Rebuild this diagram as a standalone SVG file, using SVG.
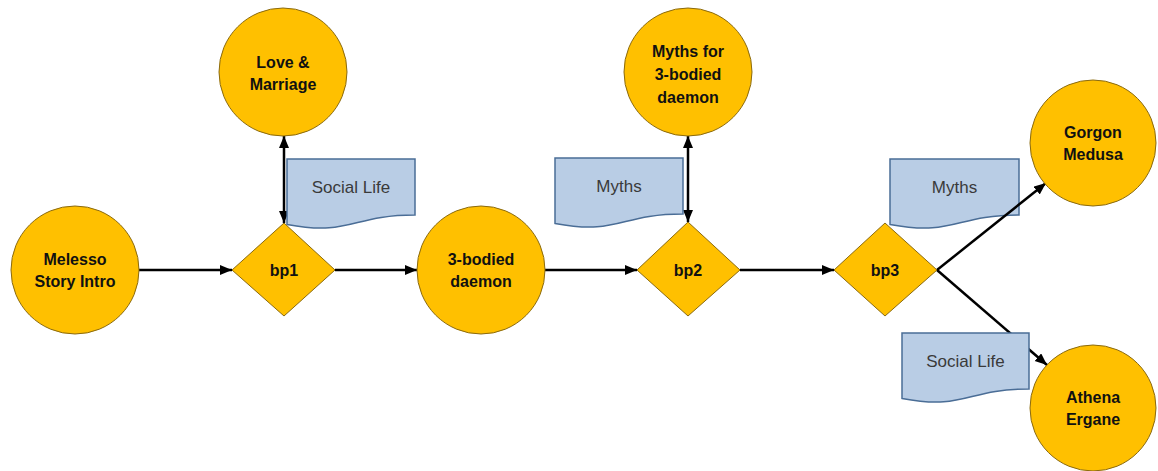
<svg xmlns="http://www.w3.org/2000/svg" width="1158" height="471" viewBox="0 0 1158 471">
  <defs>
    <style>
      .node { fill: #FFC000; stroke: #8a6a10; stroke-width: 1; }
      .doc { fill: #B9CDE5; stroke: #4A6D96; stroke-width: 1.5; }
      .lbl { font-family: "Liberation Sans", Arial, sans-serif; font-weight: bold; font-size: 16px; fill: #111; text-anchor: middle; }
      .dlbl { font-family: "Liberation Sans", Arial, sans-serif; font-size: 17px; fill: #3a3a3a; text-anchor: middle; }
      .conn { stroke: #000; stroke-width: 2.5; fill: none; }
    </style>
    <marker id="arr" markerUnits="userSpaceOnUse" markerWidth="13" markerHeight="11" refX="12" refY="5" orient="auto-start-reverse" viewBox="0 0 13 11">
      <path d="M0,0 L12,5 L0,10 Z" fill="#000"/>
    </marker>
  </defs>
  <rect width="1158" height="471" fill="#fff"/>

  <g id="doc-myths-bp3">
    <path class="doc" d="M890,159 H1019 V215 C954.5,215 954.5,236.5 890,224.4 Z"/>
    <text class="dlbl" x="954.5" y="193">Myths</text>
  </g>

  <g id="connectors">
    <line class="conn" x1="139" y1="270" x2="232" y2="270" marker-end="url(#arr)"/>
    <line class="conn" x1="335" y1="270" x2="417" y2="270" marker-end="url(#arr)"/>
    <line class="conn" x1="545" y1="270" x2="637" y2="270" marker-end="url(#arr)"/>
    <line class="conn" x1="740" y1="270" x2="834" y2="270" marker-end="url(#arr)"/>
    <line class="conn" x1="284" y1="136" x2="284" y2="223" marker-start="url(#arr)" marker-end="url(#arr)"/>
    <line class="conn" x1="688" y1="136" x2="688" y2="222" marker-start="url(#arr)" marker-end="url(#arr)"/>
    <line class="conn" x1="937" y1="270" x2="1046" y2="183" marker-end="url(#arr)"/>
    <line class="conn" x1="937" y1="270" x2="1047" y2="365" marker-end="url(#arr)"/>
  </g>

  <g id="doc-social-bp1">
    <path class="doc" d="M287,159 H415 V215 C351,215 351,236.5 287,224.4 Z"/>
    <text class="dlbl" x="351" y="193">Social Life</text>
  </g>
  <g id="doc-myths-bp2">
    <path class="doc" d="M555,158 H683 V214 C619,214 619,235.5 555,223.4 Z"/>
    <text class="dlbl" x="619" y="192">Myths</text>
  </g>
  <g id="doc-social-bp3">
    <path class="doc" d="M902,333 H1029 V389 C965.5,389 965.5,410.5 902,398.4 Z"/>
    <text class="dlbl" x="965.5" y="367">Social Life</text>
  </g>

  <g id="melesso">
    <circle class="node" cx="75" cy="270" r="64"/>
    <text class="lbl" x="75" y="265">Melesso</text>
    <text class="lbl" x="75" y="287">Story Intro</text>
  </g>
  <g id="bp1">
    <path class="node" d="M284,223 L335,270 L284,316 L232,270 Z"/>
    <text class="lbl" x="284" y="276">bp1</text>
  </g>
  <g id="love">
    <circle class="node" cx="283" cy="72" r="64"/>
    <text class="lbl" x="283" y="68">Love &amp;</text>
    <text class="lbl" x="283" y="90">Marriage</text>
  </g>
  <g id="daemon">
    <circle class="node" cx="481" cy="270" r="64"/>
    <text class="lbl" x="481" y="265">3-bodied</text>
    <text class="lbl" x="481" y="287">daemon</text>
  </g>
  <g id="bp2">
    <path class="node" d="M688,222 L740,270 L688,316 L637,270 Z"/>
    <text class="lbl" x="688" y="276">bp2</text>
  </g>
  <g id="myths-daemon">
    <circle class="node" cx="688" cy="72" r="64"/>
    <text class="lbl" x="688" y="57">Myths for</text>
    <text class="lbl" x="688" y="80">3-bodied</text>
    <text class="lbl" x="688" y="103">daemon</text>
  </g>
  <g id="bp3">
    <path class="node" d="M885,223 L937,270 L885,316 L834,270 Z"/>
    <text class="lbl" x="885" y="276">bp3</text>
  </g>
  <g id="gorgon">
    <circle class="node" cx="1093" cy="143" r="63"/>
    <text class="lbl" x="1093" y="138">Gorgon</text>
    <text class="lbl" x="1093" y="160">Medusa</text>
  </g>
  <g id="athena">
    <circle class="node" cx="1093" cy="408" r="63"/>
    <text class="lbl" x="1093" y="403">Athena</text>
    <text class="lbl" x="1093" y="425">Ergane</text>
  </g>
</svg>
